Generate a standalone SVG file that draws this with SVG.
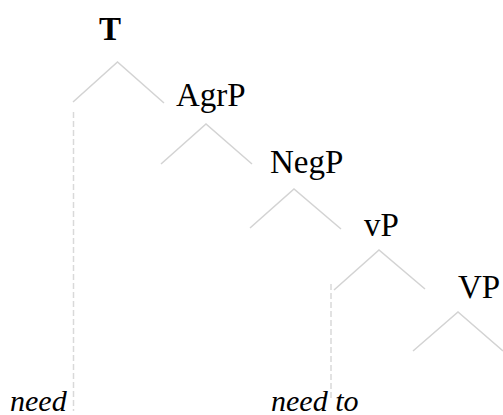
<svg xmlns="http://www.w3.org/2000/svg" width="503" height="415" viewBox="0 0 503 415">
<style>
text{font-family:'Liberation Serif','Times New Roman',Times,serif;font-size:33px;fill:#000}
.b{font-weight:bold}
.it{font-style:italic;font-size:30px}
.br{stroke:#d3d3d3;stroke-width:1.5;fill:none}
.ds{stroke:#d9d9d9;stroke-width:1.5;stroke-dasharray:6,3;fill:none}
</style>
<rect width="503" height="415" fill="#fff"/>
<g id="connectors">
<polyline class="br" points="73,102 117.5,62 164,103"/>
<polyline class="br" points="161,164 206,124 252,164"/>
<polyline class="br" points="250,228 294,189 341,229"/>
<polyline class="br" points="334,290 379,250 425,289"/>
<polyline class="br" points="413,351 458,312 503,351"/>
<line class="ds" x1="73.5" y1="112" x2="73.5" y2="411"/>
<line class="ds" x1="331" y1="284" x2="331" y2="400"/>
</g>
<g id="T"><text class="b" x="110" y="40" text-anchor="middle">T</text></g>
<g id="AgrP"><text x="176" y="106">AgrP</text></g>
<g id="NegP"><text x="270" y="173">NegP</text></g>
<g id="vP"><text x="364" y="236">vP</text></g>
<g id="VP"><text x="458" y="298">VP</text></g>
<g id="need"><text class="it" x="10" y="411">need</text></g>
<g id="needto"><text class="it" x="271" y="411">need to</text></g>
</svg>
